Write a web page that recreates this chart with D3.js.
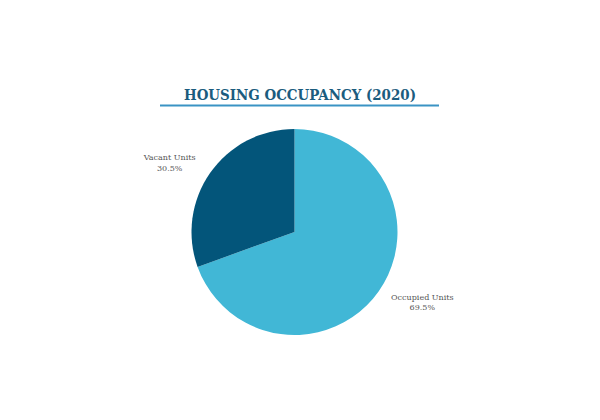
<!DOCTYPE html>
<html>
<head>
<meta charset="utf-8">
<script src="https://cdn.jsdelivr.net/npm/d3@7"></script>
<style>
  html, body { margin: 0; padding: 0; background: #fff; }
  svg { display: block; }
</style>
</head>
<body>
<svg id="chart" width="600" height="420"></svg>
<script>
// Data ---
var categories = ["Occupied Units", "Vacant Units"];
var shares = [69.5, 30.5];
var colors = ["#41b7d6", "#03557a"];

var width = 600, height = 420;
var cx = 294.5, cy = 232, radius = 103;

var svg = d3.select("#chart");

//  Title ---
svg.append("text")
    .attr("x", 300)
    .attr("y", 100)
    .attr("text-anchor", "middle")
    .attr("textLength", 232)
    .attr("lengthAdjust", "spacingAndGlyphs")
    .style("font-family", "'DejaVu Serif', serif")
    .style("font-weight", "bold")
    .style("font-size", "14.5px")
    .style("fill", "#1b5c7e")
    .text("HOUSING OCCUPANCY (2020)");

svg.append("line")
    .attr("x1", 160).attr("x2", 439)
    .attr("y1", 105.5).attr("y2", 105.5)
    .style("stroke", "#3a93c4")
    .style("stroke-width", 2);

//  Pie ---
var data = categories.map(function (c, i) {
    return { name: c, value: shares[i], color: colors[i] };
});

var pie = d3.pie()
    .sort(null)
    .value(function (d) { return d.value; });

var arc = d3.arc().innerRadius(0).outerRadius(radius);

var g = svg.append("g")
    .attr("transform", "translate(" + cx + "," + cy + ")");

var arcs = pie(data);

g.selectAll("path")
    .data(arcs)
    .enter().append("path")
    .attr("d", arc)
    .style("fill", function (d) { return d.data.color; });

//  Labels ---
var labelArc = d3.arc().innerRadius(radius * 1.41).outerRadius(radius * 1.41);

var label = g.selectAll(".label")
    .data(arcs)
    .enter().append("text")
    .attr("class", "label")
    .attr("text-anchor", "middle")
    .attr("transform", function (d) {
        var c = labelArc.centroid(d);
        // push labels outward horizontally, pull toward the middle vertically
        var x = c[0] + (c[0] < 0 ? -6 : 9);
        var y = c[1] + (c[1] < 0 ? 14 : -14);
        return "translate(" + x + "," + y + ")";
    })
    .style("font-family", "'DejaVu Serif', serif")
    .style("font-size", "8px")
    .style("fill", "#555");

label.append("tspan")
    .attr("x", 0)
    .attr("dy", "-0.25em")
    .text(function (d) { return d.data.name; });
label.append("tspan")
    .attr("x", 0)
    .attr("dy", "1.35em")
    .text(function (d) { return d.data.value.toFixed(1) + "%"; });
</script>
</body>
</html>
